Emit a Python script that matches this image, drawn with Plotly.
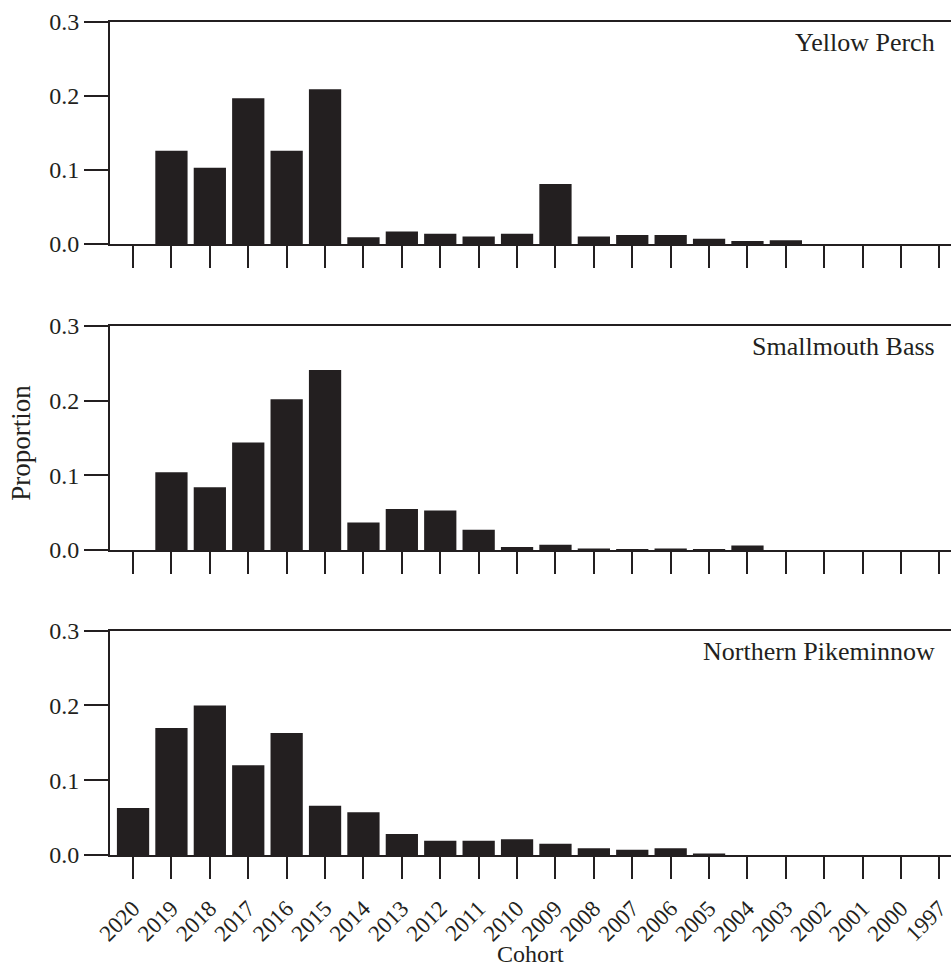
import plotly.graph_objects as go

cohorts = ["2020", "2019", "2018", "2017", "2016", "2015", "2014", "2013", "2012", "2011", "2010",
           "2009", "2008", "2007", "2006", "2005", "2004", "2003", "2002", "2001", "2000", "1997"]

yellow_perch = [0.0, 0.126, 0.103, 0.197, 0.126, 0.209, 0.009, 0.017, 0.014, 0.010, 0.014,
                0.081, 0.010, 0.012, 0.012, 0.007, 0.004, 0.005, 0.0, 0.0, 0.0, 0.0]

smallmouth_bass = [0.0, 0.104, 0.084, 0.144, 0.202, 0.241, 0.037, 0.055, 0.053, 0.027, 0.004,
                   0.007, 0.002, 0.001, 0.002, 0.001, 0.006, 0.0, 0.0, 0.0, 0.0, 0.0]

northern_pikeminnow = [0.063, 0.170, 0.200, 0.120, 0.163, 0.066, 0.057, 0.028, 0.019, 0.019, 0.021,
                       0.015, 0.009, 0.007, 0.009, 0.002, 0.0, 0.0, 0.0, 0.0, 0.0, 0.0]

species = ["Yellow Perch", "Smallmouth Bass", "Northern Pikeminnow"]
series = [yellow_perch, smallmouth_bass, northern_pikeminnow]

INK = "#231f20"
FONT = "Liberation Serif"

domains = [[0.7335, 1.0], [0.3661, 0.6351], [0.0, 0.2693]]

fig = go.Figure()
for i, vals in enumerate(series):
    n = "" if i == 0 else str(i + 1)
    fig.add_trace(go.Bar(x=cohorts, y=vals, xaxis="x" + n, yaxis="y" + n,
                         marker=dict(color=INK, line=dict(width=0)), width=0.84,
                         showlegend=False))

layout = dict(
    template="none",
    width=951, height=969,
    margin=dict(l=110, r=0, t=22, b=114),
    paper_bgcolor="white", plot_bgcolor="white",
    font=dict(family=FONT, color=INK),
    showlegend=False,
    annotations=[],
)

for i in range(3):
    n = "" if i == 0 else str(i + 1)
    layout["xaxis" + n] = dict(
        anchor="y" + n, domain=[0, 1], type="category",
        categoryorder="array", categoryarray=cohorts,
        range=[-0.6, 21.3],
        showline=True, linecolor=INK, linewidth=2, mirror=True,
        ticks="outside", ticklen=22, tickwidth=1.5, tickcolor=INK,
        showticklabels=(i == 2), tickangle=-45, ticklabelstandoff=7,
        tickfont=dict(family=FONT, size=23, color=INK),
        showgrid=False, zeroline=False, automargin=False,
    )
    layout["yaxis" + n] = dict(
        anchor="x" + n, domain=domains[i],
        range=[0, 0.3], tickvals=[0, 0.1, 0.2, 0.3], tickformat=".1f",
        showline=True, linecolor=INK, linewidth=2, mirror=False,
        ticks="outside", ticklen=24, tickwidth=2, tickcolor=INK,
        tickfont=dict(family=FONT, size=24, color=INK),
        showgrid=False, zeroline=False, automargin=False,
    )
    layout["annotations"].append(dict(
        text=species[i], xref="x" + n + " domain", yref="y" + n + " domain",
        x=0.983, y=1, xanchor="right", yanchor="top", yshift=-4,
        showarrow=False, font=dict(family=FONT, size=26, color=INK),
    ))

layout["annotations"].append(dict(
    text="Cohort", xref="paper", yref="paper", x=0.5, y=0, yshift=-84,
    xanchor="center", yanchor="top", showarrow=False,
    font=dict(family=FONT, size=24, color=INK),
))
layout["annotations"].append(dict(
    text="Proportion", xref="paper", yref="paper", x=0, xshift=-106, y=0.495,
    xanchor="left", yanchor="middle", textangle=-90, showarrow=False,
    font=dict(family=FONT, size=27, color=INK),
))

fig.update_layout(**layout)
fig.write_html("out.html")
